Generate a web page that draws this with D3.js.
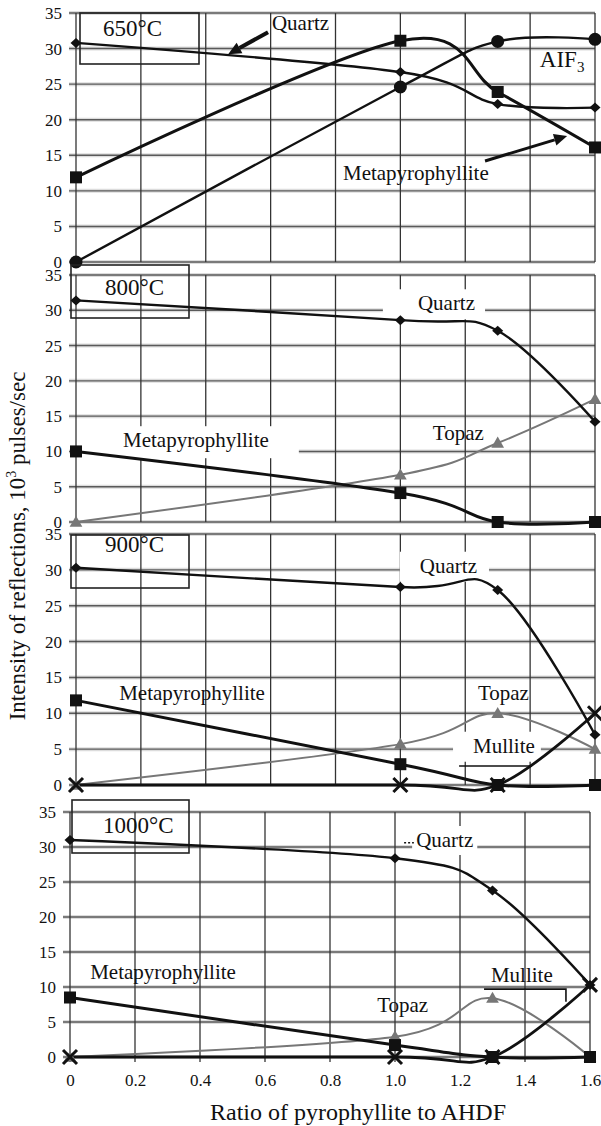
<!DOCTYPE html>
<html><head><meta charset="utf-8">
<script src="https://cdn.jsdelivr.net/npm/d3@7"></script>
<style>
body{margin:0;background:#fff}
svg{display:block}
text{font-family:"Liberation Serif","Times New Roman",Times,serif;fill:#111}
</style>
</head><body>
<svg id="c" width="601" height="1126"></svg>
<script>
// ---------- data ----------
const ratios = [0, 1.0, 1.3, 1.6];
const xTickValues = [0, 0.2, 0.4, 0.6, 0.8, 1.0, 1.2, 1.4, 1.6];
const xTickLabels = ["0", "0.2", "0.4", "0.6", "0.8", "1.0", "1.2", "1.4", "1.6"];
const yTickValues = [0, 5, 10, 15, 20, 25, 30, 35];
const temperatures = ["650°C", "800°C", "900°C", "1000°C"];

const quartz650 = [30.8, 26.7, 22.2, 21.7];
const meta650   = [11.9, 31.1, 23.9, 16.1];
const alf650    = [0, 24.6, 31.0, 31.3];

const quartz800 = [31.4, 28.6, 27.1, 14.2];
const meta800   = [10.0, 4.1, 0, 0];
const topaz800  = [0, 6.7, 11.2, 17.4];

const quartz900  = [30.3, 27.6, 27.2, 7.0];
const meta900    = [11.8, 2.9, 0, 0];
const topaz900   = [0, 5.7, 10.0, 5.0];
const mullite900 = [0, 0, 0, 10.0];

const quartz1000  = [31.0, 28.4, 23.8, 10.3];
const meta1000    = [8.5, 1.7, 0, 0];
const topaz1000   = [0, 2.9, 8.4, 0];
const mullite1000 = [0, 0, 0, 10.3];

// ---------- styles / layout ----------
const FONT = '"Liberation Serif", "Times New Roman", Times, serif';
const styles = {
  quartz:  {marker: "diamond",  color: "#111", width: 2.4},
  meta:    {marker: "square",   color: "#111", width: 3},
  alf:     {marker: "circle",   color: "#111", width: 2.4},
  topaz:   {marker: "triangle", color: "#777", width: 2},
  mullite: {marker: "cross",    color: "#111", width: 2.8}
};

const panels = [
  {temp: temperatures[0], x0: 76, x1: 595, yTop: 13, yBot: 262,
   box: [80, 13, 119, 51], tempX: 103, tempY: 36,
   series: [["alf", alf650], ["quartz", quartz650], ["meta", meta650]],
   labels: [
     {t: "Quartz", x: 0.604, y: 32.6},
     {t: "Metapyrophyllite", x: 0.823, y: 11.5},
     {t: "AIF", sub: "3", x: 1.430, y: 27.4, size: 23}
   ],
   arrows: [[[0.592, 32.3], [0.469, 29.2], 4], [[1.261, 14.2], [1.514, 17.7], 3]],
   leaders: []},
  {temp: temperatures[1], x0: 76, x1: 595, yTop: 275, yBot: 522,
   box: [71, 265, 118, 53], tempX: 105, tempY: 295,
   series: [["topaz", topaz800], ["quartz", quartz800], ["meta", meta800]],
   labels: [
     {t: "Quartz", x: 1.054, y: 30.0, bg: [35, 10, 2, 4]},
     {t: "Topaz", x: 1.100, y: 11.6},
     {t: "Metapyrophyllite", x: 0.145, y: 10.6, bg: [43, 30, 2, 6]}
   ],
   arrows: [], leaders: []},
  {temp: temperatures[2], x0: 76, x1: 595, yTop: 534, yBot: 785,
   box: [71, 535, 118, 53], tempX: 105, tempY: 552,
   series: [["topaz", topaz900], ["quartz", quartz900], ["mullite", mullite900], ["meta", meta900]],
   labels: [
     {t: "Quartz", x: 1.060, y: 29.6, bg: [20, 12, 2, 4]},
     {t: "Topaz", x: 1.239, y: 11.9},
     {t: "Mullite", x: 1.224, y: 4.5, bg: [20, 6, 2, 4]},
     {t: "Metapyrophyllite", x: 0.133, y: 11.9}
   ],
   arrows: [],
   leaders: [{pts: [[1.181, 2.65], [1.406, 2.65]]}]},
  {temp: temperatures[3], x0: 70, x1: 590, yTop: 812, yBot: 1057,
   box: [72, 800, 117, 53], tempX: 103, tempY: 833,
   series: [["topaz", topaz1000], ["quartz", quartz1000], ["mullite", mullite1000], ["meta", meta1000]],
   labels: [
     {t: "Quartz", x: 1.065, y: 30.0, bg: [4, 4, 2, 3]},
     {t: "Metapyrophyllite", x: 0.062, y: 11.1},
     {t: "Topaz", x: 0.945, y: 6.4},
     {t: "Mullite", x: 1.295, y: 10.7}
   ],
   arrows: [],
   leaders: [{pts: [[1.274, 9.7], [1.526, 9.7], [1.526, 7.9]]},
             {pts: [[1.028, 30.6], [1.058, 30.6]], dash: "2,2"}]}
];

const svg = d3.select("#c");

function drawMarker(g, type, cx, cy, color) {
  if (type === "diamond") {
    g.append("path").attr("d", `M${cx},${cy-5}L${cx+5.5},${cy}L${cx},${cy+5}L${cx-5.5},${cy}Z`).attr("fill", color);
  } else if (type === "square") {
    g.append("rect").attr("x", cx-6).attr("y", cy-6).attr("width", 12).attr("height", 12).attr("fill", color);
  } else if (type === "circle") {
    g.append("circle").attr("cx", cx).attr("cy", cy).attr("r", 6.5).attr("fill", color);
  } else if (type === "triangle") {
    g.append("path").attr("d", d3.symbol(d3.symbolTriangle, 70)()).attr("transform", `translate(${cx},${cy+1})`).attr("fill", color);
  } else if (type === "cross") {
    g.append("path").attr("d", `M${cx-7},${cy-7}L${cx+7},${cy+7}M${cx-7},${cy+7}L${cx+7},${cy-7}`)
      .attr("stroke", color).attr("stroke-width", 3).attr("fill", "none");
  }
}

panels.forEach((p, pi) => {
  const x = d3.scaleLinear().domain([0, 1.6]).range([p.x0, p.x1]);
  const y = d3.scaleLinear().domain([0, 35]).range([p.yBot, p.yTop]);
  const g = svg.append("g");

  // horizontal grid (with light scan halo)
  yTickValues.forEach(v => {
    g.append("line").attr("x1", x(0) - 7).attr("x2", x(1.6)).attr("y1", y(v)).attr("y2", y(v))
      .attr("stroke", "#dcdcdc").attr("stroke-width", 4);
  });
  yTickValues.forEach(v => {
    g.append("line").attr("x1", x(0) - 7).attr("x2", x(1.6)).attr("y1", y(v)).attr("y2", y(v))
      .attr("stroke", "#5a5a5a").attr("stroke-width", 1.4);
  });
  // vertical grid
  xTickValues.forEach(v => {
    g.append("line").attr("x1", x(v)).attr("x2", x(v)).attr("y1", y(35)).attr("y2", y(0) + (pi === 3 ? 5 : 0))
      .attr("stroke", "#333").attr("stroke-width", 1.3);
  });

  const bgG = g.append("g");

  // y axis labels
  const ax = g.append("g").attr("transform", `translate(${x(0)},0)`)
    .call(d3.axisLeft(y).tickValues(yTickValues).tickSize(0).tickPadding(14));
  ax.attr("font-family", null);
  ax.select(".domain").remove();
  ax.selectAll("text").style("font-family", FONT).style("font-size", "17px").attr("fill", "#111");

  // temperature box
  g.append("rect").attr("x", p.box[0]).attr("y", p.box[1]).attr("width", p.box[2]).attr("height", p.box[3])
    .attr("fill", "none").attr("stroke", "#222").attr("stroke-width", 1.6);
  g.append("text").attr("x", p.tempX).attr("y", p.tempY).style("font-size", "23px").text(p.temp);

  // series lines (Excel-style smoothed: uniform Catmull-Rom)
  const line = d3.line().x((d, i) => x(ratios[i])).y(d => y(d)).curve(d3.curveCatmullRom.alpha(0));
  p.series.forEach(([key, vals]) => {
    const st = styles[key];
    g.append("path").attr("d", line(vals)).attr("fill", "none")
      .attr("stroke", st.color).attr("stroke-width", st.width).attr("stroke-linejoin", "round");
  });
  p.series.forEach(([key, vals]) => {
    const st = styles[key];
    const mg = g.append("g");
    vals.forEach((v, i) => drawMarker(mg, st.marker, x(ratios[i]), y(v), st.color));
  });

  // leaders
  p.leaders.forEach(l => {
    g.append("path").attr("d", d3.line().x(d => x(d[0])).y(d => y(d[1]))(l.pts))
      .attr("fill", "none").attr("stroke", "#111").attr("stroke-width", 1.6)
      .attr("stroke-dasharray", l.dash || null);
  });

  // arrows
  p.arrows.forEach(([a, b, w]) => {
    const ax1 = x(a[0]), ay1 = y(a[1]), bx = x(b[0]), by = y(b[1]);
    const ang = Math.atan2(by - ay1, bx - ax1);
    const L = 13, Wd = 6;
    const hx = bx - L * Math.cos(ang), hy = by - L * Math.sin(ang);
    g.append("line").attr("x1", ax1).attr("y1", ay1).attr("x2", hx).attr("y2", hy)
      .attr("stroke", "#111").attr("stroke-width", w);
    const px = -Math.sin(ang) * Wd, py = Math.cos(ang) * Wd;
    g.append("path").attr("d", `M${bx},${by}L${hx + px},${hy + py}L${hx - px},${hy - py}Z`).attr("fill", "#111");
  });

  // labels
  p.labels.forEach(l => {
    const t = g.append("text").attr("x", x(l.x)).attr("y", y(l.y)).style("font-size", (l.size || 21) + "px").text(l.t);
    if (l.sub) t.append("tspan").attr("dy", 5).style("font-size", "15px").text(l.sub);
    if (l.bg) {
      const bb = t.node().getBBox();
      bgG.append("rect").attr("x", bb.x - l.bg[0]).attr("y", bb.y - l.bg[2])
        .attr("width", bb.width + l.bg[0] + l.bg[1]).attr("height", bb.height + l.bg[2] + l.bg[3])
        .attr("fill", "#fff");
    }
  });

  // x axis on bottom panel
  if (pi === 3) {
    const xa = g.append("g").attr("transform", `translate(0,${y(0)})`)
      .call(d3.axisBottom(x).tickValues(xTickValues).tickFormat((d, i) => xTickLabels[i]).tickSize(0).tickPadding(17));
    xa.attr("font-family", null);
    xa.select(".domain").remove();
    xa.selectAll("text").style("font-family", FONT).style("font-size", "17px").attr("fill", "#111");
  }
});

// axis titles
svg.append("text").attr("x", 358).attr("y", 1120).attr("text-anchor", "middle").style("font-size", "24px")
  .text("Ratio of pyrophyllite to AHDF");
const yt = svg.append("text").attr("transform", "translate(25,546) rotate(-90)").attr("text-anchor", "middle").style("font-size", "23px");
yt.append("tspan").text("Intensity of reflections, 10");
yt.append("tspan").attr("dy", -9).style("font-size", "14px").text("3");
yt.append("tspan").attr("dy", 9).text(" pulses/sec");
</script>
</body></html>
